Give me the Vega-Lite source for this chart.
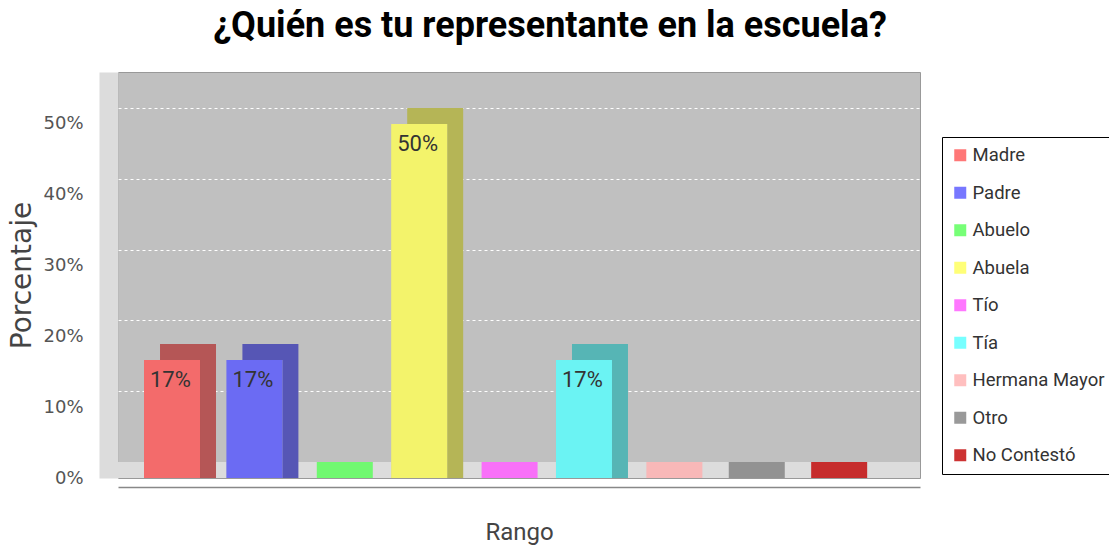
{
  "$schema": "https://vega.github.io/schema/vega-lite/v6.json",
  "autosize": "none",
  "width": 802,
  "height": 406,
  "padding": {"left": 118, "top": 72, "right": 189, "bottom": 71},
  "background": "white",
  "config": {
    "view": {"stroke": "#999999", "fill": "#c0c0c0"}
  },
  "title": {
    "text": "¿Quién es tu representante en la escuela?",
    "font": "Roboto, sans-serif",
    "fontSize": 36,
    "fontWeight": "bold",
    "color": "#000000",
    "anchor": "middle",
    "dx": 31,
    "offset": 27
  },
  "data": {
    "values": [
      {"rol": "Madre", "porcentaje": 0.1667},
      {"rol": "Padre", "porcentaje": 0.1667},
      {"rol": "Abuelo", "porcentaje": 0},
      {"rol": "Abuela", "porcentaje": 0.5},
      {"rol": "Tío", "porcentaje": 0},
      {"rol": "Tía", "porcentaje": 0.1667},
      {"rol": "Hermana Mayor", "porcentaje": 0},
      {"rol": "Otro", "porcentaje": 0},
      {"rol": "No Contestó", "porcentaje": 0}
    ]
  },
  "encoding": {
    "x": {
      "field": "rol",
      "type": "nominal",
      "sort": null,
      "scale": {"paddingInner": 0.3204, "paddingOuter": 0.527, "align": 0.2995},
      "axis": {
        "title": "Rango",
        "labels": false,
        "ticks": false,
        "offset": 9,
        "domainColor": "#888888",
        "domainWidth": 1.5,
        "titleFont": "Roboto, sans-serif",
        "titleFontSize": 24,
        "titleFontWeight": "normal",
        "titleColor": "#444444",
        "titlePadding": 33
      }
    }
  },
  "layer": [
    {
      "mark": {"type": "rule", "color": "#dcdcdc", "strokeWidth": 16, "yOffset": -8},
      "encoding": {
        "x": null,
        "y": {
          "datum": 0,
          "type": "quantitative",
          "scale": {"domain": [0, 0.5734], "nice": false, "zero": true},
          "axis": {
            "title": "Porcentaje",
            "format": ".0%",
            "values": [0, 0.1, 0.2, 0.3, 0.4, 0.5],
            "grid": true,
            "gridColor": "#ffffff",
            "gridDash": [3, 3],
            "gridWidth": 1,
            "tickOffset": -16,
            "labelOffset": 16,
            "ticks": false,
            "tickSize": 0,
            "offset": 9.5,
            "domainColor": "#dcdcdc",
            "domainWidth": 19,
            "labelPadding": 25.5,
            "labelFont": "DejaVu Sans, sans-serif",
            "labelFontSize": 18,
            "labelColor": "#555555",
            "titleFont": "DejaVu Sans, sans-serif",
            "titleFontSize": 28,
            "titleFontWeight": "normal",
            "titleColor": "#444444",
            "titlePadding": 6
          }
        }
      }
    },
    {
      "mark": {"type": "bar", "opacity": 0.8, "xOffset": 8, "yOffset": -16},
      "encoding": {
        "y": {"datum": 0, "type": "quantitative"},
        "y2": {"datum": 0},
        "color": {
          "field": "rol",
          "type": "nominal",
          "sort": null,
          "scale": {
            "domain": ["Madre", "Padre", "Abuelo", "Abuela", "Tío", "Tía", "Hermana Mayor", "Otro", "No Contestó"],
            "range": ["#ff5555", "#5555ff", "#55ff55", "#ffff55", "#ff55ff", "#55ffff", "#ffafaf", "#808080", "#c00000"]
          },
          "legend": {
            "title": null,
            "orient": "none",
            "legendX": 824,
            "legendY": 65,
            "strokeColor": "#000000",
            "fillColor": "#ffffff",
            "padding": 9,
            "symbolType": "square",
            "symbolSize": 144,
            "symbolStrokeWidth": 0,
            "symbolOpacity": 1,
            "labelFont": "Roboto, sans-serif",
            "labelFontSize": 18.5,
            "labelColor": "#333333",
            "labelOffset": 3,
            "rowPadding": 18.5,
            "labelLimit": 200
          }
        }
      }
    },
    {
      "transform": [{"filter": "datum.porcentaje > 0"}],
      "mark": {"type": "bar", "xOffset": 16, "yOffset": -16},
      "encoding": {
        "y": {"field": "porcentaje", "type": "quantitative", "stack": null},
        "fill": {
          "field": "rol",
          "type": "nominal",
          "sort": null,
          "scale": {
            "domain": ["Madre", "Padre", "Abuelo", "Abuela", "Tío", "Tía", "Hermana Mayor", "Otro", "No Contestó"],
            "range": ["#b55656", "#5656b5", "#56b556", "#b5b556", "#b556b5", "#56b5b5", "#b58888", "#6e6e6e", "#922626"]
          },
          "legend": null
        }
      }
    },
    {
      "transform": [{"filter": "datum.porcentaje > 0"}],
      "mark": {"type": "bar", "color": "#c0c0c0"},
      "encoding": {
        "y": {"field": "porcentaje", "type": "quantitative", "stack": null}
      }
    },
    {
      "transform": [{"filter": "datum.porcentaje > 0"}],
      "mark": {"type": "bar", "opacity": 0.8},
      "encoding": {
        "y": {"field": "porcentaje", "type": "quantitative", "stack": null},
        "color": {"field": "rol", "type": "nominal", "sort": null}
      }
    },
    {
      "transform": [{"filter": "datum.porcentaje > 0"}],
      "mark": {
        "type": "text",
        "align": "left",
        "baseline": "top",
        "dx": 6,
        "dy": 10,
        "font": "Roboto, sans-serif",
        "fontSize": 22,
        "color": "#333333"
      },
      "encoding": {
        "x": {"field": "rol", "type": "nominal", "sort": null, "bandPosition": 0},
        "y": {"field": "porcentaje", "type": "quantitative", "stack": null},
        "text": {"field": "porcentaje", "type": "quantitative", "format": ".0%"}
      }
    }
  ]
}
